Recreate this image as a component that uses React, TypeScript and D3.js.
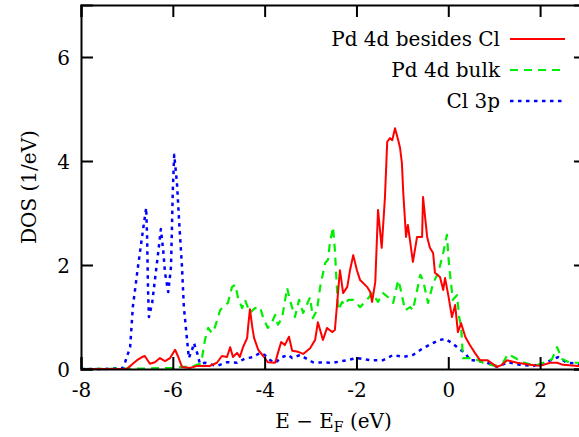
import { useEffect, useRef } from 'react';
import * as d3 from 'd3';

// DOS curves: [energy (eV), DOS (1/eV)]
const pdBesidesCl: [number, number][] = [
  [-8, 0], [-7.0, 0], [-6.98, 0.02], [-6.78, 0.17], [-6.67, 0.23], [-6.61, 0.25], [-6.5, 0.1],
  [-6.39, 0.13], [-6.28, 0.21], [-6.17, 0.15], [-6.06, 0.21], [-5.95, 0.37], [-5.89, 0.25],
  [-5.8, 0.04], [-5.63, 0.02], [-5.47, 0.06], [-5.19, 0.06], [-5.04, 0.12], [-4.93, 0.25],
  [-4.82, 0.23], [-4.75, 0.42], [-4.69, 0.23], [-4.6, 0.31], [-4.54, 0.23], [-4.47, 0.42],
  [-4.38, 0.6], [-4.36, 0.81], [-4.32, 1.15], [-4.27, 0.81], [-4.23, 0.6], [-4.14, 0.37],
  [-4.03, 0.25], [-3.93, 0.13], [-3.77, 0.12], [-3.71, 0.31], [-3.64, 0.52], [-3.56, 0.46],
  [-3.47, 0.62], [-3.4, 0.35], [-3.27, 0.33], [-3.16, 0.29], [-3.01, 0.4], [-2.9, 0.56],
  [-2.84, 0.9], [-2.73, 0.56], [-2.64, 0.79], [-2.53, 0.71], [-2.47, 0.75], [-2.4, 1.48],
  [-2.36, 1.9], [-2.29, 1.46], [-2.2, 1.58], [-2.14, 1.9], [-2.07, 2.19], [-1.99, 1.9],
  [-1.92, 1.71], [-1.77, 1.58], [-1.7, 1.48], [-1.66, 1.29], [-1.59, 1.67], [-1.53, 3.06],
  [-1.45, 2.33], [-1.38, 3.29], [-1.33, 4.37], [-1.27, 4.44], [-1.22, 4.4], [-1.16, 4.63],
  [-1.09, 4.4], [-1.05, 4.25], [-1.01, 3.96], [-0.98, 3.38], [-0.92, 2.54], [-0.88, 2.77],
  [-0.77, 2.06], [-0.68, 2.54], [-0.57, 2.54], [-0.55, 3.31], [-0.46, 2.54], [-0.4, 2.33],
  [-0.33, 2.23], [-0.29, 1.85], [-0.18, 1.77], [-0.11, 1.52], [-0.07, 1.75], [0.0, 1.42],
  [0.08, 1.0], [0.15, 1.23], [0.21, 0.71], [0.28, 0.88], [0.37, 0.62], [0.47, 0.46],
  [0.58, 0.31], [0.69, 0.17], [0.85, 0.17], [1.06, 0.04], [1.17, 0.08], [1.28, 0.17],
  [1.5, 0.12], [1.78, 0.08], [2.0, 0.06], [2.22, 0.12], [2.37, 0.12], [2.5, 0.08],
  [2.83, 0.06], [3.0, 0.05]
];

const pdBulk: [number, number][] = [
  [-8, 0], [-6.6, 0.01], [-6.0, 0.02], [-5.8, 0.04], [-5.6, 0.04], [-5.41, 0.1], [-5.36, 0.23],
  [-5.3, 0.56], [-5.23, 0.79], [-5.15, 0.69], [-5.08, 0.81], [-4.97, 1.13], [-4.91, 1.19],
  [-4.8, 1.27], [-4.71, 1.58], [-4.64, 1.62], [-4.58, 1.37], [-4.49, 1.17], [-4.43, 1.33],
  [-4.32, 1.08], [-4.21, 1.17], [-4.1, 1.19], [-4.03, 0.98], [-3.93, 0.79], [-3.84, 0.9],
  [-3.77, 1.04], [-3.71, 0.85], [-3.62, 0.98], [-3.51, 1.56], [-3.45, 1.33], [-3.34, 1.0],
  [-3.25, 1.33], [-3.16, 1.08], [-3.01, 1.38], [-2.95, 0.98], [-2.86, 1.13], [-2.79, 1.58],
  [-2.68, 2.04], [-2.62, 2.1], [-2.58, 2.42], [-2.51, 2.73], [-2.47, 2.29], [-2.4, 1.13],
  [-2.31, 1.29], [-2.25, 1.23], [-2.18, 1.33], [-2.07, 1.33], [-1.92, 1.19], [-1.77, 1.33],
  [-1.66, 1.46], [-1.53, 1.29], [-1.42, 1.46], [-1.31, 1.38], [-1.2, 1.27], [-1.09, 1.71],
  [-1.05, 1.58], [-0.94, 1.13], [-0.83, 1.19], [-0.77, 1.13], [-0.61, 1.81], [-0.55, 1.71],
  [-0.44, 1.27], [-0.33, 1.65], [-0.22, 1.85], [-0.11, 2.23], [-0.03, 2.58], [0.02, 1.96],
  [0.1, 1.33], [0.19, 1.42], [0.24, 0.98], [0.28, 0.81], [0.32, 0.21], [0.41, 0.21],
  [0.54, 0.21], [0.76, 0.12], [1.02, 0.06], [1.19, 0.12], [1.3, 0.29], [1.46, 0.21],
  [1.63, 0.13], [1.89, 0.06], [2.07, 0.12], [2.26, 0.19], [2.37, 0.42], [2.48, 0.19],
  [2.65, 0.12], [2.83, 0.12], [3.0, 0.1]
];

const cl3p: [number, number][] = [
  [-8, 0], [-7.5, 0], [-7.08, 0.02], [-6.93, 0.42], [-6.87, 1.2], [-6.76, 1.96], [-6.65, 2.67],
  [-6.58, 3.1], [-6.56, 2.54], [-6.54, 1.52], [-6.52, 1.0], [-6.45, 1.27], [-6.39, 1.71],
  [-6.32, 2.23], [-6.26, 2.69], [-6.21, 2.29], [-6.17, 1.85], [-6.1, 1.48], [-6.04, 1.96],
  [-6.02, 2.67], [-6.0, 3.44], [-5.97, 4.12], [-5.91, 3.58], [-5.86, 2.8], [-5.8, 1.96],
  [-5.76, 1.2], [-5.69, 0.56], [-5.65, 0.21], [-5.58, 0.37], [-5.54, 0.5], [-5.47, 0.31],
  [-5.41, 0.1], [-5.3, 0.12], [-5.23, 0.1], [-5.04, 0.06], [-4.82, 0.13], [-4.6, 0.12],
  [-4.43, 0.2], [-4.25, 0.23], [-4.1, 0.31], [-4.0, 0.27], [-3.88, 0.17], [-3.77, 0.12],
  [-3.62, 0.23], [-3.49, 0.27], [-3.4, 0.21], [-3.23, 0.27], [-2.95, 0.13], [-2.51, 0.12],
  [-2.2, 0.17], [-1.99, 0.21], [-1.7, 0.17], [-1.42, 0.17], [-1.2, 0.27], [-0.98, 0.23],
  [-0.77, 0.27], [-0.55, 0.4], [-0.33, 0.5], [-0.18, 0.56], [-0.07, 0.58], [0.08, 0.5],
  [0.26, 0.37], [0.37, 0.31], [0.47, 0.17], [0.54, 0.17], [0.85, 0.12], [1.06, 0.04],
  [1.3, 0.13], [1.56, 0.08], [1.85, 0.06], [2.11, 0.12], [2.39, 0.23], [2.59, 0.12],
  [2.83, 0.1], [3.0, 0.08]
];

const seriesNames = ['Pd 4d besides Cl', 'Pd 4d bulk', 'Cl 3p'];
const xTicks = [-8, -6, -4, -2, 0, 2];
const yTicks = [0, 2, 4, 6];

const App = () => {
  const svgRef = useRef<SVGSVGElement>(null);

  useEffect(() => {
    const width = 579;
    const height = 437;
    const margin = { top: 5, left: 81, plotRight: 586, bottom: 369 };
    const font = 'DejaVu Serif';
    const fontSize = 20;

    const svg = d3.select(svgRef.current);
    svg.selectAll('*').remove();
    svg.attr('width', width).attr('height', height).attr('font-family', font);

    const x = d3.scaleLinear().domain([-8, 3]).range([margin.left, margin.plotRight]);
    const y = d3.scaleLinear().domain([0, 7]).range([margin.bottom, margin.top]);

    const styles = [
      { data: pdBesidesCl, color: '#ff0000', dash: null, width: 2 },
      { data: pdBulk, color: '#00ee00', dash: '8,6', width: 2.2 },
      { data: cl3p, color: '#0000ff', dash: '3.5,4.5', width: 2.5 }
    ];

    const line = d3.line<[number, number]>()
      .x(d => x(d[0]))
      .y(d => y(d[1]));

    // Curves (blue first so red ends up on top)
    [2, 1, 0].forEach(i => {
      const s = styles[i];
      svg.append('path')
        .datum(s.data)
        .attr('d', line)
        .attr('fill', 'none')
        .attr('stroke', s.color)
        .attr('stroke-width', s.width)
        .attr('stroke-linejoin', 'round')
        .attr('stroke-dasharray', s.dash);
    });

    const tickLen = 12;
    const fmt = (d: d3.NumberValue) => String(d);

    // Bottom axis, ticks pointing inward
    const bottom = svg.append('g')
      .attr('transform', `translate(0,${margin.bottom})`)
      .call(d3.axisBottom(x).tickValues(xTicks).tickSize(-tickLen).tickPadding(14).tickFormat(fmt));
    // Top axis mirror
    svg.append('g')
      .attr('transform', `translate(0,${margin.top})`)
      .call(d3.axisTop(x).tickValues(xTicks).tickSize(-tickLen).tickFormat(() => ''));
    // Left axis
    const left = svg.append('g')
      .attr('transform', `translate(${margin.left},0)`)
      .call(d3.axisLeft(y).tickValues(yTicks).tickSize(-tickLen).tickPadding(11).tickFormat(fmt));
    // Right axis mirror
    svg.append('g')
      .attr('transform', `translate(${margin.plotRight},0)`)
      .call(d3.axisRight(y).tickValues(yTicks).tickSize(-tickLen).tickFormat(() => ''));

    svg.selectAll('.domain')
      .style('stroke', '#000')
      .style('stroke-width', 2);
    svg.selectAll('.tick line')
      .style('stroke', '#000')
      .style('stroke-width', 2);

    svg.selectAll('g').attr('font-family', font).attr('font-size', fontSize);
    bottom.selectAll('text').style('fill', '#000');
    left.selectAll('text').style('fill', '#000').attr('dy', '0.35em');

    // Axis titles
    const xTitle = svg.append('text')
      .attr('x', (margin.left + margin.plotRight) / 2)
      .attr('y', 428)
      .attr('text-anchor', 'middle')
      .attr('font-size', fontSize);
    xTitle.append('tspan').text('E − E');
    xTitle.append('tspan').attr('dy', 4).attr('font-size', 14).text('F');
    xTitle.append('tspan').attr('dy', -4).text(' (eV)');

    svg.append('text')
      .attr('transform', `translate(36,${(margin.top + margin.bottom) / 2}) rotate(-90)`)
      .attr('text-anchor', 'middle')
      .attr('font-size', fontSize)
      .text('DOS (1/eV)');

    // Legend
    const legend = svg.append('g');
    seriesNames.forEach((name, i) => {
      const s = styles[i];
      const ly = 39 + i * 31;
      legend.append('text')
        .attr('x', 500)
        .attr('y', ly)
        .attr('dy', '0.35em')
        .attr('text-anchor', 'end')
        .attr('font-size', fontSize)
        .text(name);
      legend.append('line')
        .attr('x1', 510)
        .attr('x2', 565)
        .attr('y1', ly)
        .attr('y2', ly)
        .attr('stroke', s.color)
        .attr('stroke-width', s.width)
        .attr('stroke-dasharray', s.dash);
    });
  }, []);

  return (
    <div style={{ position: 'absolute', left: 0, top: 0, background: '#fff' }}>
      <svg ref={svgRef} style={{ display: 'block' }} />
    </div>
  );
};

export default App;
